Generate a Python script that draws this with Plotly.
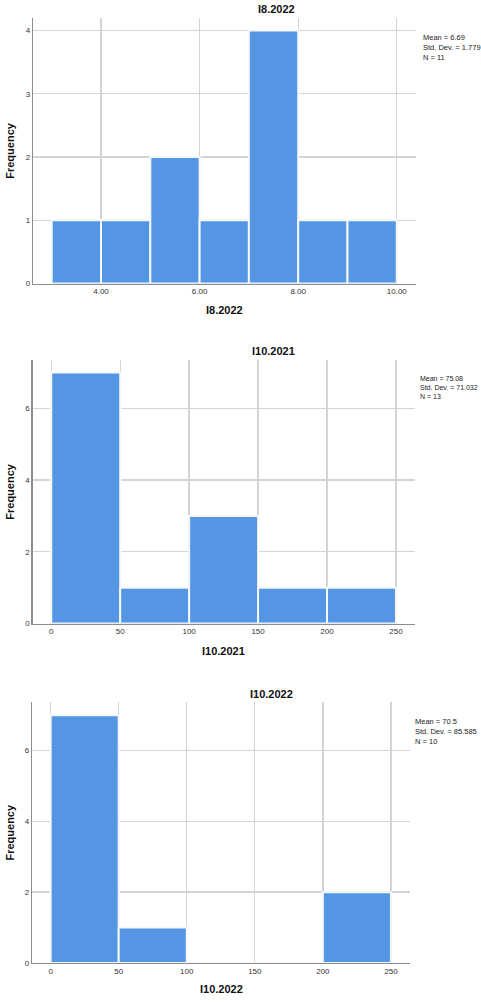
import plotly.graph_objects as go

# ---- data ----
titles = ["I8.2022", "I10.2021", "I10.2022"]
bins1_left = [3, 4, 5, 6, 7, 8, 9]
counts1 = [1, 1, 2, 1, 4, 1, 1]
bins2_left = [0, 50, 100, 150, 200]
counts2 = [7, 1, 3, 1, 1]
bins3_left = [0, 50, 100, 150, 200]
counts3 = [7, 1, 0, 0, 2]
stats1 = ["Mean = 6.69", "Std. Dev. = 1.779", "N = 11"]
stats2 = ["Mean = 75.08", "Std. Dev. = 71.032", "N = 13"]
stats3 = ["Mean = 70.5", "Std. Dev. = 85.585", "N = 10"]
xticks1 = [4, 6, 8, 10]
xticklabels1 = ["4.00", "6.00", "8.00", "10.00"]
xticks23 = [0, 50, 100, 150, 200, 250]
yticks1 = [0, 1, 2, 3, 4]
yticks23 = [0, 2, 4, 6]

W, H = 481, 1004
BAR = "#5596E4"
GRID = "#d4d4d4"
AX = "#8c8c8c"
FONT = "Liberation Sans, Arial, sans-serif"

panels = [
    dict(lefts=bins1_left, counts=counts1, width=1, title=titles[0], stats=stats1,
         xr=[2.62, 10.39], yr=[0, 4.2], xt=xticks1, xtl=xticklabels1, yt=yticks1,
         px=(33, 416), py=(18, 285), title_y=9, title_x=276, xlab_y=312, stat_x=421, stat_y=31, fs=7.5),
    dict(lefts=bins2_left, counts=counts2, width=50, title=titles[1], stats=stats2,
         xr=[-13.6, 263.8], yr=[0, 7.35], xt=xticks23, xtl=[str(v) for v in xticks23], yt=yticks23,
         px=(32.5, 415), py=(361.7, 626.7), title_y=353, title_x=273, xlab_y=654, stat_x=418, stat_y=375, fs=7),
    dict(lefts=bins3_left, counts=counts3, width=50, title=titles[2], stats=stats3,
         xr=[-13.7, 264], yr=[0, 7.37], xt=xticks23, xtl=[str(v) for v in xticks23], yt=yticks23,
         px=(32, 410), py=(705.7, 967.7), title_y=697, title_x=271, xlab_y=994, stat_x=413, stat_y=719, fs=7.5),
]

fig = go.Figure()
annotations = []
layout = dict(width=W, height=H, margin=dict(l=0, r=0, t=0, b=0),
              paper_bgcolor="white", plot_bgcolor="white", showlegend=False,
              font=dict(family=FONT, color="#222"))

for i, p in enumerate(panels, start=1):
    sx = "" if i == 1 else str(i)
    centers = [l + p["width"] / 2 for l in p["lefts"]]
    fig.add_trace(go.Bar(
        x=centers, y=p["counts"], width=[p["width"]] * len(centers),
        marker=dict(color=BAR, line=dict(color="#f4f7fb", width=2)),
        xaxis="x" + sx, yaxis="y" + sx, hoverinfo="skip"))
    x0, x1 = p["px"]
    y0, y1 = p["py"]
    layout["xaxis" + sx] = dict(
        domain=[x0 / W, x1 / W], range=p["xr"], anchor="y" + sx,
        tickvals=p["xt"], ticktext=p["xtl"], showgrid=True, gridcolor=GRID, gridwidth=1.3,
        showline=True, linecolor=AX, linewidth=1.3, zeroline=False, ticks="",
        tickfont=dict(size=8, color="#333"), fixedrange=True)
    layout["yaxis" + sx] = dict(
        domain=[1 - y1 / H, 1 - y0 / H], range=p["yr"], anchor="x" + sx,
        tickvals=p["yt"], showgrid=True, gridcolor=GRID, gridwidth=1.3,
        showline=True, linecolor=AX, linewidth=1.3, zeroline=False, ticks="",
        tickfont=dict(size=8, color="#333"), fixedrange=True)
    annotations.append(dict(text="<b>%s</b>" % p["title"], x=p["title_x"] / W, y=1 - p["title_y"] / H,
                            xref="paper", yref="paper", showarrow=False, xanchor="center", yanchor="middle",
                            font=dict(size=11, color="#111")))
    annotations.append(dict(text="<b>%s</b>" % p["title"], x=((x0 + x1) / 2) / W, y=1 - p["xlab_y"] / H,
                            xref="paper", yref="paper", showarrow=False, xanchor="center", yanchor="middle",
                            font=dict(size=11, color="#111")))
    annotations.append(dict(text="<b>Frequency</b>", x=10 / W, y=1 - ((y0 + y1) / 2) / H,
                            xref="paper", yref="paper", showarrow=False, textangle=-90,
                            xanchor="center", yanchor="middle", font=dict(size=11, color="#111")))
    annotations.append(dict(text="<br>".join(p["stats"]), x=p["stat_x"] / W, y=1 - p["stat_y"] / H,
                            xref="paper", yref="paper", showarrow=False, xanchor="left", yanchor="top",
                            align="left", font=dict(size=p["fs"], color="#222")))

layout["annotations"] = annotations
layout["bargap"] = 0
fig.update_layout(**layout)
fig.write_html("out.html", config={"displayModeBar": False, "staticPlot": True},
               post_script="document.body.style.margin='0';document.body.style.overflow='hidden';")
